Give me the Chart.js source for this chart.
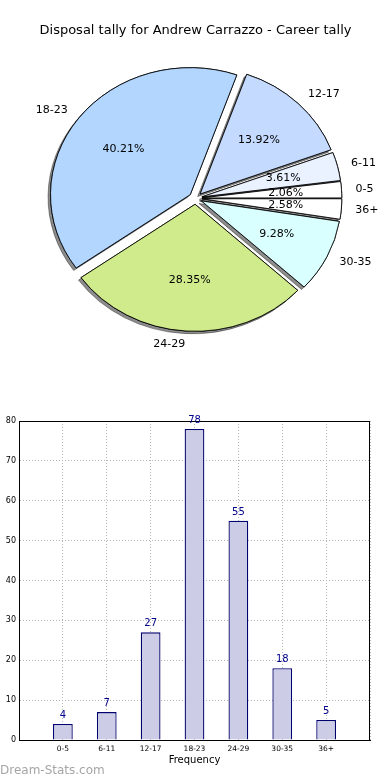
<!DOCTYPE html>
<html>
<head>
<meta charset="utf-8">
<title>Disposal tally - Andrew Carrazzo</title>
<script src="https://cdn.jsdelivr.net/npm/chart.js@4/dist/chart.umd.min.js"></script>
<style>
html, body { margin: 0; padding: 0; background: #fff; }
body { width: 390px; height: 780px; position: relative; overflow: hidden; font-family: "DejaVu Sans", sans-serif; }
.box { position: absolute; left: 0; width: 390px; }
#pie-box { top: 0; height: 400px; }
#bar-box { top: 400px; height: 380px; }
.credit { position: absolute; left: 0; top: 762px; font-size: 12px; line-height: 16px; color: #a6a6a6; }
</style>
</head>
<body>
<div class="box" id="pie-box"><canvas id="pie"></canvas></div>
<div class="box" id="bar-box"><canvas id="bar"></canvas></div>
<div class="credit">Dream-Stats.com</div>
<script>
const title = 'Disposal tally for Andrew Carrazzo - Career tally';
const categories = ['0-5', '6-11', '12-17', '18-23', '24-29', '30-35', '36+'];
const frequency = [4, 7, 27, 78, 55, 18, 5];
const sliceColors = ['#ffffff', '#eaf1ff', '#c5daff', '#b3d6ff', '#d0eb8c', '#d9ffff', '#ffffff'];
const yMax = 80;
const yStep = 10;

// pie is drawn counter-clockwise from 3 o'clock, chart.js goes clockwise -> reverse
const pieLabels = categories.slice().reverse();
const pieValues = frequency.slice().reverse();
const pieColors = sliceColors.slice().reverse();
const total = frequency.reduce((a, b) => a + b, 0);

const EXPLODE = 6;     // px each slice is pushed out
const STRETCH = 1.1;   // pie is a bit wider than tall

Chart.defaults.font.family = "'DejaVu Sans', sans-serif";
Chart.defaults.color = '#000';

const explodedPie = {
    id: 'explodedPie',
    beforeDatasetDraw(chart, args) {
        const ctx = chart.ctx;
        const arcs = args.meta.data;
        const cx = arcs[0].x, cy = arcs[0].y;
        [true, false].forEach(function (shadow) {
            arcs.forEach(function (arc) {
                const mid = (arc.startAngle + arc.endAngle) / 2;
                ctx.save();
                if (shadow) {
                    ctx.shadowColor = 'rgba(0,0,0,0.45)';
                    ctx.shadowOffsetX = -2.5;
                    ctx.shadowOffsetY = 2.5;
                }
                ctx.translate(cx + Math.cos(mid) * EXPLODE * STRETCH, cy + Math.sin(mid) * EXPLODE);
                ctx.scale(STRETCH, 1);
                ctx.translate(-cx, -cy);
                arc.draw(ctx);
                ctx.restore();
            });
        });
        return false;
    },
    afterDatasetsDraw(chart) {
        const ctx = chart.ctx;
        const arcs = chart.getDatasetMeta(0).data;
        ctx.save();
        ctx.fillStyle = '#000';
        ctx.font = "11px 'DejaVu Sans', sans-serif";
        ctx.textBaseline = 'middle';
        arcs.forEach(function (arc, i) {
            const mid = (arc.startAngle + arc.endAngle) / 2;
            const ux = Math.cos(mid), uy = Math.sin(mid);
            const r = arc.outerRadius;
            const d1 = EXPLODE + 1.1 * r;
            ctx.textAlign = ux >= 0 ? 'left' : 'right';
            ctx.fillText(pieLabels[i], arc.x + d1 * ux * STRETCH, arc.y + d1 * uy);
            const d2 = EXPLODE + 0.6 * r;
            ctx.textAlign = 'center';
            ctx.fillText((pieValues[i] / total * 100).toFixed(2) + '%', arc.x + d2 * ux * STRETCH, arc.y + d2 * uy);
        });
        ctx.restore();
    }
};

new Chart(document.getElementById('pie'), {
    type: 'pie',
    data: {
        labels: pieLabels,
        datasets: [{ data: pieValues, backgroundColor: pieColors, borderColor: '#000', borderWidth: 0.8 }]
    },
    options: {
        responsive: true,
        maintainAspectRatio: false,
        animation: false,
        rotation: 90,
        radius: 127,
        layout: { padding: { left: 1, right: 0, top: 0, bottom: 52 } },
        plugins: {
            legend: { display: false },
            tooltip: { enabled: false },
            title: {
                display: true,
                text: title,
                color: '#000',
                font: { size: 13, weight: 'normal' },
                padding: { top: 23, bottom: 10 }
            }
        }
    },
    plugins: [explodedPie]
});

const barExtras = {
    id: 'barExtras',
    afterDraw(chart) {
        const ctx = chart.ctx;
        const a = chart.chartArea;
        ctx.save();
        ctx.strokeStyle = '#000';
        ctx.lineWidth = 1;
        ctx.strokeRect(Math.round(a.left) + 0.5, Math.round(a.top) + 0.5, Math.round(a.right - a.left) - 1, Math.round(a.bottom - a.top));
        ctx.fillStyle = '#00008b';
        ctx.font = "10px 'DejaVu Sans', sans-serif";
        ctx.textAlign = 'center';
        ctx.textBaseline = 'middle';
        chart.getDatasetMeta(0).data.forEach(function (bar, i) {
            ctx.fillText(String(frequency[i]), bar.x, bar.y - 8.5);
        });
        ctx.restore();
    }
};

new Chart(document.getElementById('bar'), {
    type: 'bar',
    data: {
        datasets: [{
            data: frequency.map((v, i) => ({ x: i, y: v })),
            backgroundColor: '#ccccE6',
            borderColor: '#00006e',
            borderWidth: 1.3,
            barPercentage: 0.45,
            categoryPercentage: 1
        }]
    },
    options: {
        responsive: true,
        maintainAspectRatio: false,
        animation: false,
        layout: { padding: { left: 0, right: 20, top: 21, bottom: 0 } },
        plugins: { legend: { display: false }, tooltip: { enabled: false } },
        scales: {
            x: {
                type: 'linear',
                min: -1,
                max: categories.length,
                offset: false,
                z: 1,
                afterFit: function (s) { s.height = 40; },
                grid: { color: '#b4b4b4', drawTicks: false, offset: false },
                border: { display: true, color: '#000', dash: [1, 2] },
                ticks: {
                    stepSize: 1,
                    autoSkip: false,
                    maxRotation: 0,
                    padding: 5,
                    color: '#000',
                    font: { size: 7.5 },
                    callback: v => categories[v] ?? ''
                },
                title: { display: true, text: 'Frequency', color: '#000', font: { size: 10 }, padding: { top: 0, bottom: 14 } }
            },
            y: {
                min: 0,
                max: yMax,
                z: 1,
                afterFit: function (s) { s.width = 19; },
                grid: { color: '#b4b4b4', drawTicks: false },
                border: { display: true, color: '#000', dash: [1, 2] },
                ticks: { stepSize: yStep, padding: 3, color: '#000', font: { size: 8 } }
            }
        }
    },
    plugins: [barExtras]
});
</script>
</body>
</html>
